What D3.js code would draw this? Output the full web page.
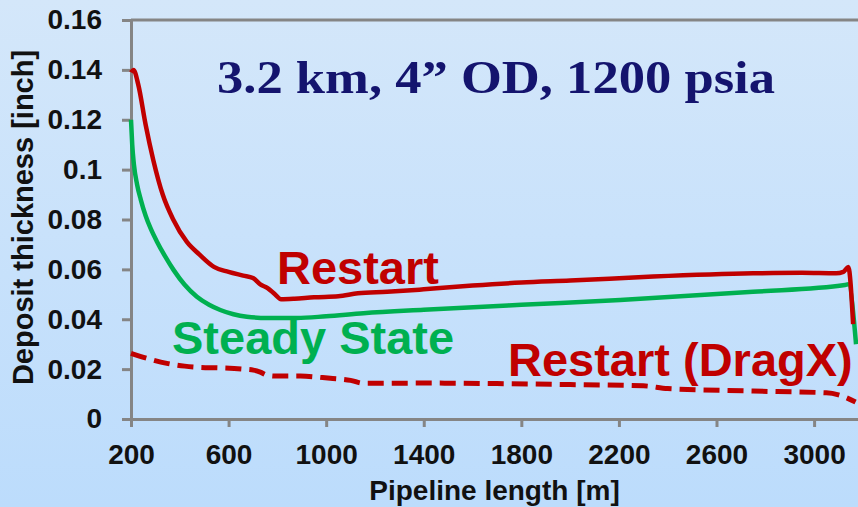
<!DOCTYPE html>
<html>
<head>
<meta charset="utf-8">
<script src="https://cdn.jsdelivr.net/npm/d3@7"></script>
<style>
  html, body { margin: 0; padding: 0; overflow: hidden; }
  svg { display: block; }
</style>
</head>
<body>
<svg id="chart" width="858" height="507"></svg>
<script>
// Pipeline position along the line [m]
const restartX = [200, 210, 230, 260, 291, 330, 373, 429, 480, 540, 600, 660, 700, 730, 760, 790, 815, 870, 950, 1050, 1130, 1250, 1400, 1600, 1800, 2000, 2340, 2750, 2950, 3090, 3120, 3140, 3160];
// Deposit thickness after restart [inch]
const restartY = [0.139, 0.140, 0.134, 0.118, 0.104, 0.090, 0.080, 0.071, 0.066, 0.061, 0.059, 0.0575, 0.0565, 0.054, 0.0525, 0.050, 0.048, 0.0482, 0.0488, 0.0492, 0.0504, 0.051, 0.052, 0.0535, 0.0547, 0.0555, 0.0571, 0.0584, 0.0586, 0.0584, 0.059, 0.061, 0.038];

const steadyX = [200, 205, 212, 225, 240, 260, 280, 306, 340, 375, 420, 470, 520, 566, 620, 675, 760, 880, 1000, 1153, 1400, 1800, 2205, 2750, 3127, 3140, 3172];
// Deposit thickness at steady state [inch]
const steadyY = [0.120, 0.110, 0.102, 0.094, 0.088, 0.0815, 0.0765, 0.0712, 0.0652, 0.0597, 0.0538, 0.049, 0.0458, 0.0437, 0.042, 0.041, 0.0405, 0.0405, 0.0412, 0.0424, 0.0438, 0.0458, 0.0477, 0.051, 0.0537, 0.054, 0.030];

const dragX = [200, 259, 347, 420, 484, 560, 660, 702, 730, 757, 790, 894, 1017, 1100, 1153, 1400, 1700, 2000, 2300, 2400, 2750, 3050, 3100, 3170];
// Deposit thickness after restart with DragX [inch]
const dragY = [0.0263, 0.0245, 0.0223, 0.0212, 0.0207, 0.0205, 0.0200, 0.0196, 0.0188, 0.0176, 0.0172, 0.0172, 0.0163, 0.0155, 0.0143, 0.0144, 0.0142, 0.0138, 0.0133, 0.0122, 0.0112, 0.0105, 0.0097, 0.0068];

const xTicks = [200, 600, 1000, 1400, 1800, 2200, 2600, 3000];
const yTicks = [0, 0.02, 0.04, 0.06, 0.08, 0.1, 0.12, 0.14, 0.16];

const titleText = "3.2 km, 4\u201D OD, 1200 psia";
const xLabel = "Pipeline length [m]";
const yLabel = "Deposit thickness [inch]";

const W = 858, H = 507;
const svg = d3.select("#chart");

// Slide background
const defs = svg.append("defs");
const grad = defs.append("linearGradient").attr("id", "bg")
  .attr("x1", 0).attr("y1", 0).attr("x2", 0).attr("y2", 1);
grad.append("stop").attr("offset", "0%").attr("stop-color", "#d4e7fa");
grad.append("stop").attr("offset", "100%").attr("stop-color", "#bcdcfc");
svg.append("rect").attr("width", W).attr("height", H).attr("fill", "url(#bg)");

const plot = { left: 131, right: 858, top: 20, bottom: 419 };

const x = d3.scaleLinear().domain([200, 3180]).range([plot.left, plot.right]);
const y = d3.scaleLinear().domain([0, 0.16]).range([plot.bottom, plot.top]);

const axisColor = "#858585";
const tickFont = "'Liberation Sans', Arial, sans-serif";

// Top frame line
svg.append("line")
  .attr("x1", plot.left).attr("x2", W)
  .attr("y1", plot.top).attr("y2", plot.top)
  .attr("stroke", axisColor).attr("stroke-width", 3);

// Axes
const xAxis = svg.append("g")
  .attr("transform", `translate(0,${plot.bottom})`)
  .call(d3.axisBottom(x).tickValues(xTicks).tickSize(8).tickPadding(17).tickSizeOuter(0).tickFormat(d3.format("d")));

const yAxis = svg.append("g")
  .attr("transform", `translate(${plot.left},0)`)
  .call(d3.axisLeft(y).tickValues(yTicks).tickSize(9).tickPadding(20).tickSizeOuter(0)
    .tickFormat(d => d === 0 ? "0" : String(+d.toFixed(2))));

[xAxis, yAxis].forEach(g => {
  g.select(".domain").attr("stroke", axisColor).attr("stroke-width", 3);
  g.selectAll(".tick line").attr("stroke", axisColor).attr("stroke-width", 3);
  g.selectAll(".tick text")
    .attr("fill", "#111")
    .style("font-family", tickFont)
    .style("font-weight", "bold")
    .style("font-size", "28px");
});

// Axis titles
svg.append("text")
  .attr("x", (plot.left + plot.right) / 2).attr("y", 500)
  .attr("text-anchor", "middle")
  .attr("fill", "#111")
  .style("font-family", tickFont).style("font-weight", "bold").style("font-size", "28px")
  .text(xLabel);

svg.append("text")
  .attr("transform", `translate(33,${(plot.top + plot.bottom) / 2 - 2}) rotate(-90)`)
  .attr("text-anchor", "middle")
  .attr("fill", "#111")
  .style("font-family", tickFont).style("font-weight", "bold").style("font-size", "29px")
  .text(yLabel);

// Series
const line = d3.line().x(d => x(d[0])).y(d => y(d[1])).curve(d3.curveMonotoneX);

svg.append("path")
  .datum(dragX.map((v, i) => [v, dragY[i]]))
  .attr("d", line)
  .attr("fill", "none").attr("stroke", "#c00000").attr("stroke-width", 5)
  .attr("stroke-dasharray", "16,8");

svg.append("path")
  .datum(steadyX.map((v, i) => [v, steadyY[i]]))
  .attr("d", line)
  .attr("fill", "none").attr("stroke", "#00b050").attr("stroke-width", 4.5);

svg.append("path")
  .datum(restartX.map((v, i) => [v, restartY[i]]))
  .attr("d", line)
  .attr("fill", "none").attr("stroke", "#c00000").attr("stroke-width", 4.5);

// Chart title
svg.append("text")
  .attr("x", 217).attr("y", 93)
  .attr("fill", "#14146e")
  .attr("textLength", 558).attr("lengthAdjust", "spacingAndGlyphs")
  .style("font-family", "'Liberation Serif', 'Times New Roman', serif")
  .style("font-weight", "bold").style("font-size", "47px")
  .text(titleText);

// Series labels
const labelFont = "'Liberation Sans', Arial, sans-serif";
const labels = [
  { text: "Restart", x: 277, y: 284, color: "#c00000" },
  { text: "Steady State", x: 172, y: 354, color: "#00b050" },
  { text: "Restart (DragX)", x: 508, y: 376, color: "#c00000" }
];
svg.selectAll(".series-label").data(labels).enter().append("text")
  .attr("class", "series-label")
  .attr("x", d => d.x).attr("y", d => d.y)
  .attr("fill", d => d.color)
  .style("font-family", labelFont).style("font-weight", "bold").style("font-size", "47px")
  .text(d => d.text);
</script>
</body>
</html>
